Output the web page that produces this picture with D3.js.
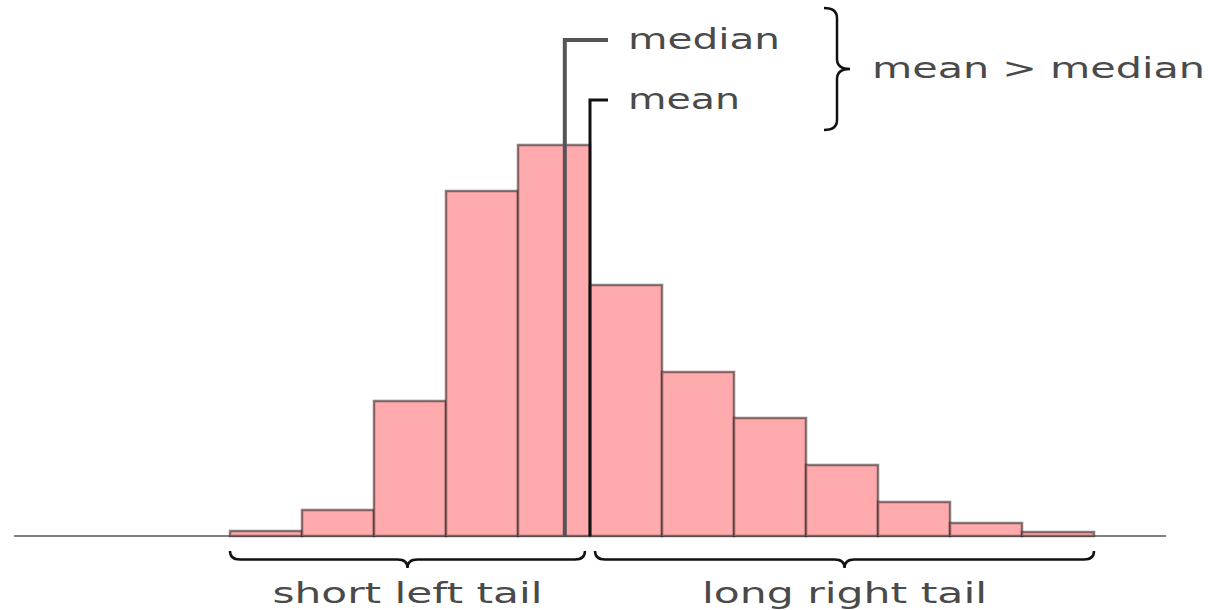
<!DOCTYPE html>
<html>
<head>
<meta charset="utf-8">
<script src="https://cdn.jsdelivr.net/npm/d3@7"></script>
<style>
  html, body { margin: 0; padding: 0; background: #fff; }
  text { font-family: "DejaVu Sans", sans-serif; fill: #4a4a4a; }
</style>
</head>
<body>
<div id="chart"></div>
<script>
// histogram bins (left edge, in bin units) and their heights
const binStarts = [0, 1, 2, 3, 4, 5, 6, 7, 8, 9, 10, 11]
const binCounts = [5, 26, 135, 345, 391, 251, 164, 118, 71, 34, 13, 4]
const medianValue = 4.65
const meanValue = 5.0
const markerLabels = ['median', 'mean']
const compareLabel = 'mean > median'
const tailLabels = ['short left tail', 'long right tail']

const width = 1208
const height = 610

const x = d3.scaleLinear().domain([-3, 13]).range([14, 1166])
const y = d3.scaleLinear().domain([0, 400]).range([536, 136])

const svg = d3.select('#chart').append('svg')
  .attr('width', width)
  .attr('height', height)

// baseline
svg.append('line')
  .attr('x1', x(-3)).attr('x2', x(13))
  .attr('y1', y(0)).attr('y2', y(0))
  .attr('stroke', '#808080')
  .attr('stroke-width', 2)

// bars
svg.selectAll('rect.bar')
  .data(binStarts)
  .join('rect')
  .attr('class', 'bar')
  .attr('x', d => x(d))
  .attr('width', d => x(d + 1) - x(d))
  .attr('y', (d, i) => y(binCounts[i]))
  .attr('height', (d, i) => y(0) - y(binCounts[i]))
  .attr('fill', '#ffaaad')
  .attr('stroke', '#3a2a2a')
  .attr('stroke-opacity', 0.6)
  .attr('stroke-width', 2.5)

// median / mean markers
const markers = [
  { v: medianValue, top: 40, color: '#555', w: 4, label: markerLabels[0], len: 152 },
  { v: meanValue, top: 100, color: '#111', w: 3, label: markerLabels[1], len: 112 }
]
markers.forEach(m => {
  svg.append('path')
    .attr('d', `M${x(m.v)},${y(0)} L${x(m.v)},${m.top} L608,${m.top}`)
    .attr('fill', 'none')
    .attr('stroke', m.color)
    .attr('stroke-width', m.w)
  svg.append('text')
    .attr('x', 628)
    .attr('y', m.top + 9)
    .attr('font-size', 28)
    .attr('textLength', m.len)
    .attr('lengthAdjust', 'spacingAndGlyphs')
    .text(m.label)
})

// brace helpers
function hBrace(x1, x2, y0, depth) {
  const mid = (x1 + x2) / 2, q = 10
  const yb = y0 + depth / 2, yt = y0 + depth
  return `M${x1},${y0} Q${x1},${yb} ${x1 + q},${yb} L${mid - q},${yb} Q${mid},${yb} ${mid},${yt}` +
    ` Q${mid},${yb} ${mid + q},${yb} L${x2 - q},${yb} Q${x2},${yb} ${x2},${y0}`
}
function vBrace(y1, y2, x0, depth) {
  const mid = (y1 + y2) / 2, q = 10
  const xb = x0 + depth / 2, xt = x0 + depth
  return `M${x0},${y1} Q${xb},${y1} ${xb},${y1 + q} L${xb},${mid - q} Q${xb},${mid} ${xt},${mid}` +
    ` Q${xb},${mid} ${xb},${mid + q} L${xb},${y2 - q} Q${xb},${y2} ${x0},${y2}`
}

// right brace with comparison label
svg.append('path')
  .attr('d', vBrace(8, 130, 824, 26))
  .attr('fill', 'none')
  .attr('stroke', '#111')
  .attr('stroke-width', 2.5)
svg.append('text')
  .attr('x', 872)
  .attr('y', 78)
  .attr('font-size', 28)
  .attr('textLength', 333)
  .attr('lengthAdjust', 'spacingAndGlyphs')
  .text(compareLabel)

// tail braces under the axis
const gap = 0.07
const tails = [
  { a: binStarts[0], b: meanValue - gap, label: tailLabels[0], len: 270 },
  { a: meanValue + gap, b: binStarts[binStarts.length - 1] + 1, label: tailLabels[1], len: 285 }
]
tails.forEach(t => {
  svg.append('path')
    .attr('d', hBrace(x(t.a), x(t.b), 551, 17))
    .attr('fill', 'none')
    .attr('stroke', '#111')
    .attr('stroke-width', 2.5)
  const cx = (x(t.a) + x(t.b)) / 2
  svg.append('text')
    .attr('x', cx - t.len / 2)
    .attr('y', 603)
    .attr('font-size', 28)
    .attr('textLength', t.len)
    .attr('lengthAdjust', 'spacingAndGlyphs')
    .text(t.label)
})
</script>
</body>
</html>
